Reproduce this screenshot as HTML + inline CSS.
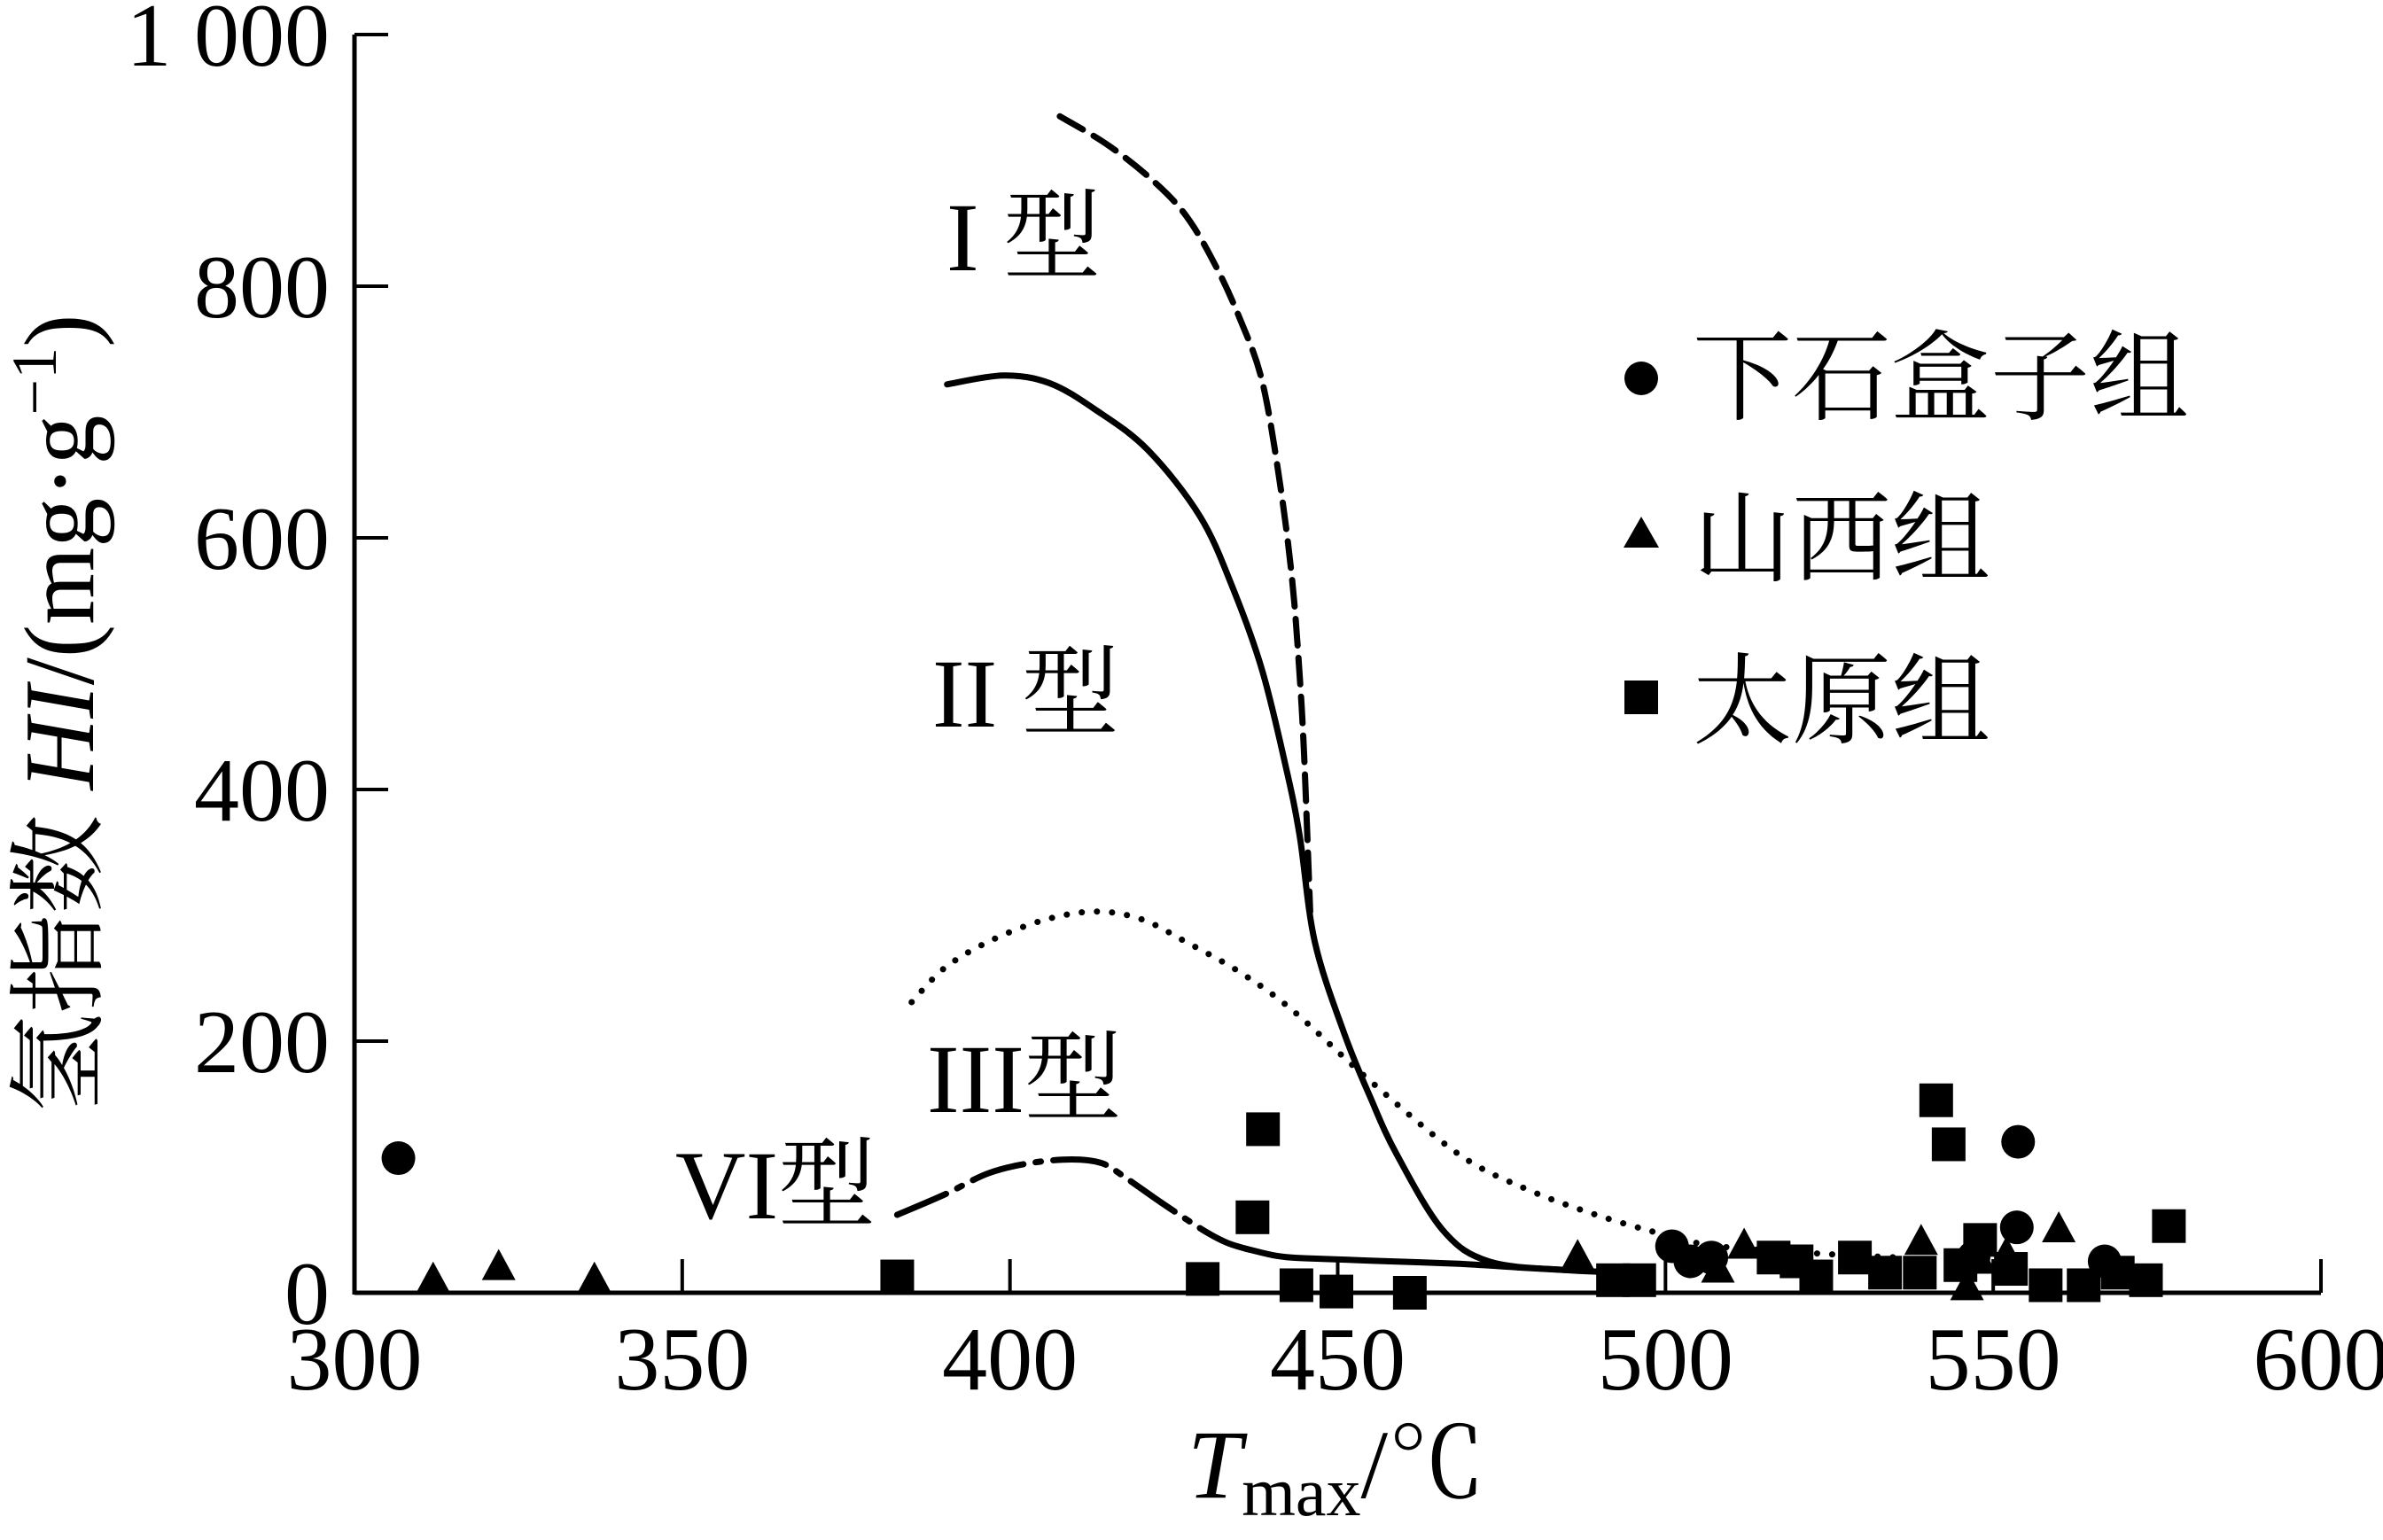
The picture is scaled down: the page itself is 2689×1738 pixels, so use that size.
<!DOCTYPE html>
<html><head><meta charset="utf-8"><style>
html,body{margin:0;padding:0;background:#fff}
svg{display:block}
text{font-family:"Liberation Serif","Noto Serif CJK SC",serif;fill:#000}
</style></head><body>
<svg id="chart" width="2689" height="1738" viewBox="0 0 2689 1738" xmlns="http://www.w3.org/2000/svg">
<g id="axes"></g>
<g id="curves"></g>
<g id="pts"></g>
<text x="1068" y="305" font-size="110">I 型</text>
<text x="1052" y="820" font-size="110">II 型</text>
<text x="1046" y="1255" font-size="110">III型</text>
<text x="762" y="1375" font-size="110">VI型</text>
<g>
<circle cx="1852" cy="427" r="19"/>
<text x="1910" y="465" font-size="112">下石盒子组</text>
<polygon points="1852,583 1832,618 1872,618"/>
<text x="1910" y="647" font-size="112">山西组</text>
<rect x="1833" y="768" width="38" height="38"/>
<text x="1910" y="830" font-size="112">太原组</text>
</g>
<text x="1340" y="1690" font-size="110"><tspan font-style="italic">T</tspan><tspan font-size="78" dy="20">max</tspan><tspan dy="-20">/℃</tspan></text>
<text transform="translate(105,805) rotate(-90)" text-anchor="middle" font-size="112">氢指数 <tspan font-style="italic">HI</tspan>/(mg·g<tspan font-size="72" dy="-42">−1</tspan><tspan dy="42">)</tspan></text>
</svg>
<script>
const xTicks=[300,350,400,450,500,550,600];
const yTicks=[0,200,400,600,800,1000];
const yTickLabels=["0","200","400","600","800","1 000"];
const circT=[306.7,501,503.8,507,553.8,553.6,567,547];
const circHI=[107,37,25,28,120,52,25,28];
const triT=[312,322,336.6,486.6,508,512,539,546,560,548,552];
const triHI=[10,20,10,28,18,37,40,4,50,25,30];
const sqT=[382.8,429.4,437,438.6,443.7,449.8,461,492,496,516.5,523,528.9,533.5,541.3,543.2,548,558,563.8,573.3,576.8,569,552.7,538.8,520,545];
const sqHI=[13,11,60,130,6,1,0,10,10,28,13,28,16,153,118,42,6,6,10,53,16,19,16,25,22];
const typeIT=[407.6,415,422,427,431.4,435,438.4,441,443,444.2,444.9,445.8];
const typeIHI=[935,912,883,855,816,775,726,650,569,490,424,303];
const typeIIT=[390.4,399,406,413,421,429,434,438.4,442,444.2,446.5,451,455,459,466,473,484.8,496];
const typeIIHI=[722,729,723,702,670,617,560,496,420,363,279,206,155,110,50,25,18,16];
const typeIIIT=[385,390,396.7,405,412.9,420,426.8,435,443,454.6,468.5,479,489.4,500,508,524,535.8];
const typeIIIHI=[231,258,279,296,303,297,279,255,225,170,110,82,62,46,37,31,28];
const typeVIT=[382.8,390,396.7,403,409.4,414,417.5,423,429.4,433,436];
const typeVIHI=[62,78,95,103,106,103,92,72,50,40,35];
const typeVItailT=[436,440,443,447.7,458,468.5,478,484.8];
const typeVItailHI=[35,30,28,27,25,23,20,18];
const NS="http://www.w3.org/2000/svg";
const X=t=>400+(t-300)/300*2219;
const Y=h=>1459-h/1000*1420;
function mk(tag,attrs,parent){const e=document.createElementNS(NS,tag);for(const k in attrs)e.setAttribute(k,attrs[k]);parent.appendChild(e);return e;}
const axes=document.getElementById('axes');
let e=mk('line',{x1:400,y1:Y(0),x2:X(600),y2:Y(0),stroke:'#000','stroke-width':5},axes);


e=mk('line',{x1:400,y1:Y(0)+2,x2:400,y2:Y(1000),stroke:'#000','stroke-width':5},axes);


xTicks.forEach(t=>{
 const l=mk('line',{x1:X(t),y1:Y(0),x2:X(t),y2:Y(0)-38,stroke:'#000','stroke-width':4},axes);
 
 
 const tx=mk('text',{x:X(t),y:1568,'text-anchor':'middle','font-size':102},axes);
 tx.textContent=t;
 
 
});
yTicks.forEach((v,i)=>{
 const l=mk('line',{x1:400,y1:Y(v),x2:438,y2:Y(v),stroke:'#000','stroke-width':4},axes);
 
 
 const tx=mk('text',{x:372,y:Y(v)+35,'text-anchor':'end','font-size':102},axes);
 tx.textContent=yTickLabels[i];
 
 
});
const cg=document.getElementById('curves');
function curve(ts,hs,dash,name,w){
 const P=ts.map((t,i)=>[X(t),Y(hs[i])]);
 let d='M'+P[0][0].toFixed(1)+','+P[0][1].toFixed(1);
 for(let i=0;i<P.length-1;i++){
  const p0=P[i-1]||P[i],p1=P[i],p2=P[i+1],p3=P[i+2]||P[i+1];
  const c1=[p1[0]+(p2[0]-p0[0])/6,p1[1]+(p2[1]-p0[1])/6];
  const c2=[p2[0]-(p3[0]-p1[0])/6,p2[1]-(p3[1]-p1[1])/6];
  d+='C'+c1.map(v=>v.toFixed(1)).join(',')+' '+c2.map(v=>v.toFixed(1)).join(',')+' '+p2.map(v=>v.toFixed(1)).join(',');
 }
 const p=mk('path',{d:d,fill:'none',stroke:'#000','stroke-width':w||7,'stroke-linecap':'round','stroke-linejoin':'round'},cg);
 if(dash)p.setAttribute('stroke-dasharray',dash);
 
 
}
curve(typeIT,typeIHI,'30 14','type-i-curve');
curve(typeIIT,typeIIHI,null,'type-ii-curve');
curve(typeIIIT,typeIIIHI,'0.1 17','type-iii-curve',7);
curve(typeVIT,typeVIHI,'60 14 6 14','type-vi-curve');
curve(typeVItailT,typeVItailHI,null,'type-vi-tail-curve');
const pg=document.getElementById('pts');
circT.forEach((t,i)=>{const c=mk('circle',{cx:X(t),cy:Y(circHI[i]),r:19},pg);
 
 });
triT.forEach((t,i)=>{const x=X(t),y=Y(triHI[i]);const c=mk('polygon',{points:`${x},${y-21} ${x-19},${y+14} ${x+19},${y+14}`},pg);
 
 });
sqT.forEach((t,i)=>{const c=mk('rect',{x:X(t)-19,y:Y(sqHI[i])-19,width:38,height:38},pg);
 
 });
</script>
</body></html>
